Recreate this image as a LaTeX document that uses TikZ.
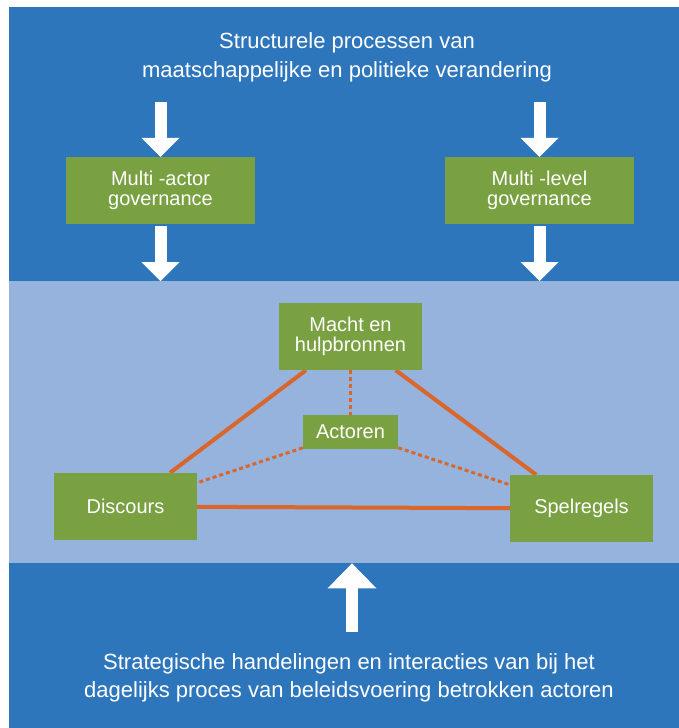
\documentclass[tikz,border=0pt]{standalone}
\usepackage{fontspec}
\setmainfont{Liberation Sans}
\usetikzlibrary{arrows.meta,positioning,backgrounds}
\definecolor{darkblue}{RGB}{46,118,188}
\definecolor{lightblue}{RGB}{149,179,220}
\definecolor{boxgreen}{RGB}{121,161,65}
\definecolor{lineorange}{RGB}{218,102,43}
\tikzset{
  box/.style={fill=boxgreen,text=white,align=center,inner sep=0pt,font=\fontsize{20}{20}\selectfont},
  wide/.style={box,minimum width=189pt,minimum height=67pt},
  mid/.style={box,minimum width=143pt,minimum height=67pt},
  title/.style={text=white,align=center,font=\fontsize{22}{29}\selectfont},
  downarrow/.style={white,line width=12pt,-{Triangle[width=38pt,length=19pt,line width=0pt]}},
  uparrow/.style={white,line width=12pt,-{Triangle[width=49pt,length=25pt,line width=0pt]}},
  link/.style={lineorange,line width=4pt},
  dotlink/.style={lineorange,line width=3pt,dash pattern=on 4pt off 3pt}
}
\begin{document}
\begin{tikzpicture}[x=1pt,y=-1pt]
\useasboundingbox (0,0) rectangle (679,728);
\node[title] (T1) at (347,57) {Structurele processen van\\maatschappelijke en politieke verandering};
\node[title,font=\fontsize{22}{28}\selectfont] (T2) at (349,677.5) {Strategische handelingen en interacties van bij het\\dagelijks proces van beleidsvoering betrokken actoren};
\node[wide] (N1) at (160.5,190.5) {Multi -actor\\governance};
\node[wide] (N2) at (539.5,190.5) {Multi -level\\governance};
\node[mid] (N3) at (350.5,336.5) {Macht en\\hulpbronnen};
\node[box,minimum width=95pt,minimum height=34pt] (N4) at (350.5,432) {Actoren};
\node[mid] (N5) at (125.5,506.5) {Discours};
\node[mid] (N6) at (581.5,508.5) {Spelregels};
\coordinate (A1) at (160.5,102);
\coordinate (A2) at (539.5,102);
\coordinate (A3) at (352,632);
\begin{pgfonlayer}{background}
\fill[darkblue] (9,7) rectangle (679,728);
\node[fill=lightblue,minimum width=670pt,minimum height=282pt,inner sep=0pt,anchor=north west] (B) at (9,281) {};
\draw[link] (N5) -- (N3);
\draw[link] (N3) -- (N6);
\draw[link] (N5) -- (N6);
\draw[dotlink] (N3) -- (N4);
\draw[dotlink] (N4) -- (N5);
\draw[dotlink] (N4) -- (N6);
\end{pgfonlayer}
\draw[downarrow] (A1) -- (N1);
\draw[downarrow] (A2) -- (N2);
\draw[downarrow,shorten <=2pt] (N1) -- (N1 |- B.north);
\draw[downarrow,shorten <=2pt] (N2) -- (N2 |- B.north);
\draw[uparrow] (A3) -- (A3 |- B.south);
\end{tikzpicture}
\end{document}
